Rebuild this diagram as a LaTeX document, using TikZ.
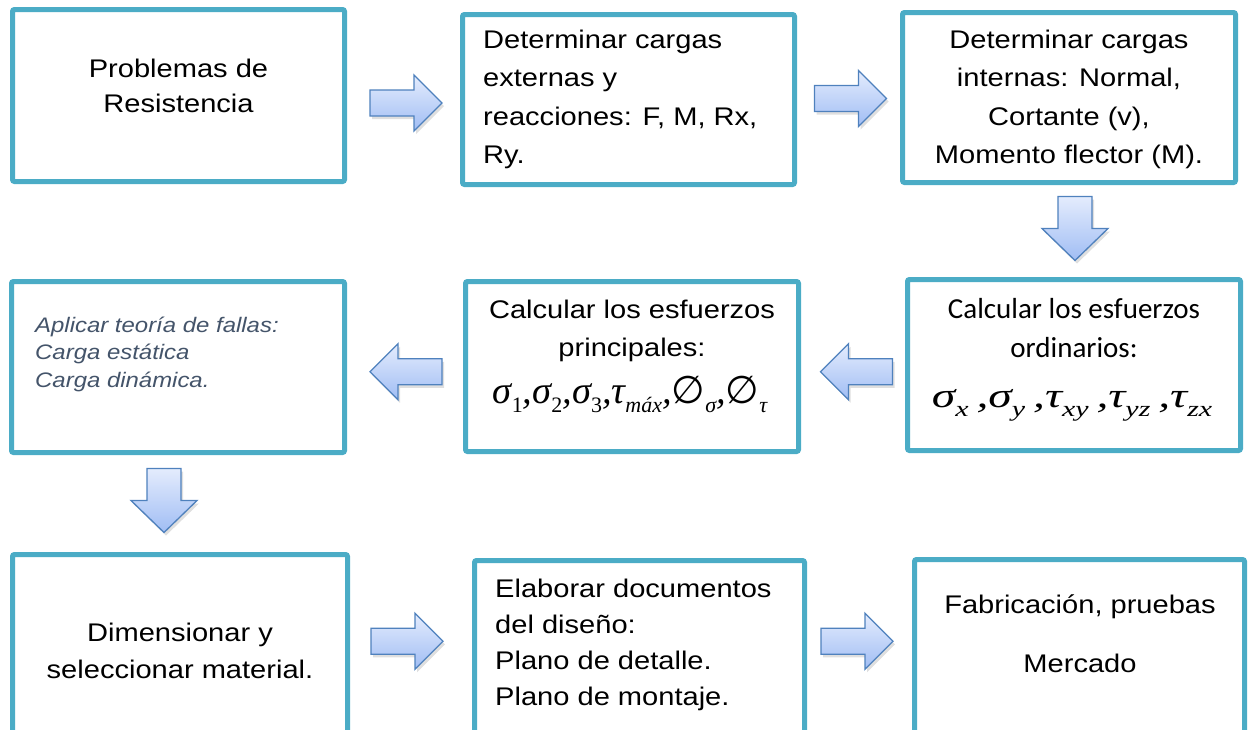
\documentclass[tikz,border=0pt]{standalone}
\usepackage{fontspec}
\setmainfont{Liberation Sans}[FakeStretch=1.14]
\newfontfamily\calibri{Carlito}
\newfontfamily\serifmat{Liberation Serif}
\newfontfamily\simbolo{DejaVu Sans}
\usetikzlibrary{calc,shadows}

\definecolor{borde}{RGB}{75,172,198}
\definecolor{flechaborde}{RGB}{79,129,189}
\definecolor{flechaclara}{RGB}{228,236,253}
\definecolor{flechaoscura}{RGB}{160,189,244}
\definecolor{grisazul}{RGB}{68,84,106}

\tikzset{
  caja/.style={draw=borde, line width=5pt, rounded corners=2pt, fill=white, inner sep=0pt,
    drop shadow={opacity=0.12, shadow xshift=1pt, shadow yshift=-1pt}},
  flecha/.style={draw=flechaborde, line width=1.3pt, line join=miter,
    top color=flechaclara, bottom color=flechaoscura,
    drop shadow={opacity=0.25, shadow xshift=2pt, shadow yshift=-3pt}},
  texto/.style={inner sep=0pt, font=\fontsize{25.5}{38.5}\selectfont},
}

% block arrows round a coordinate
\newcommand{\flechader}[1]{%
  \path[flecha] ($(#1)+(-36,-13)$) -- ++(44,0) -- ++(0,-15) -- ++(28,28)
    -- ++(-28,28) -- ++(0,-15) -- ++(-44,0) -- cycle;}
\newcommand{\flechaizq}[1]{%
  \path[flecha] ($(#1)+(36,-13)$) -- ++(-44,0) -- ++(0,-15) -- ++(-28,28)
    -- ++(28,28) -- ++(0,-15) -- ++(44,0) -- cycle;}
\newcommand{\flechaabajo}[1]{%
  \path[flecha] ($(#1)+(-17,-32)$) -- ++(34,0) -- ++(0,32) -- ++(16,0)
    -- ++(-33,32) -- ++(-33,-32) -- ++(16,0) -- cycle;}
\newcommand{\subi}[1]{\raisebox{-9pt}{\fontsize{22}{22}\selectfont #1}}

\begin{document}
\begin{tikzpicture}[x=1pt, y=-1pt]
  \useasboundingbox (0,0) rectangle (1251,729);
  \clip (0,0) rectangle (1251,729);

  % boxes
  \node[caja, minimum width=332, minimum height=172] (problemas) at (178.5,95.5) {};
  \node[caja, minimum width=332, minimum height=170] (cargasext) at (628.5,99.5) {};
  \node[caja, minimum width=333, minimum height=170] (cargasint) at (1069,97.5) {};
  \node[caja, minimum width=333, minimum height=171] (fallas) at (178,367) {};
  \node[caja, minimum width=333, minimum height=170] (principales) at (632,366.5) {};
  \node[caja, minimum width=333, minimum height=171] (ordinarios) at (1074,365) {};
  \node[caja, minimum width=335, minimum height=183] (dimension) at (180,646) {};
  \node[caja, minimum width=330, minimum height=176] (documentos) at (639.5,648.5) {};
  \node[caja, minimum width=330, minimum height=177] (fabricacion) at (1079.5,648) {};

  % texts (anchored on the baseline of the last line)
  \node[texto, align=center, anchor=base, font=\fontsize{25.5}{35}\selectfont] (tproblemas)
    at (178.5,112) {Problemas de\\Resistencia};
  \node[texto, align=left, anchor=base west] (tcargasext)
    at (483,163.5) {Determinar cargas\\externas y\\reacciones: F, M, Rx,\\Ry.};
  \node[texto, align=center, anchor=base] (tcargasint)
    at (1069,163.5) {Determinar cargas\\internas: Normal,\\Cortante (v),\\Momento flector (M).};
  \node[texto, align=left, anchor=base west, text=grisazul,
    font=\fontsize{21}{27.5}\selectfont\itshape] (tfallas)
    at (35,387) {Aplicar teoría de fallas:\\Carga estática\\Carga dinámica.};
  \node[texto, align=center, anchor=base] (tprincipales)
    at (632,356.5) {Calcular los esfuerzos\\principales:};
  \node[inner sep=0pt, anchor=base] (mprincipales) at (630,403)
    {\serifmat\fontsize{38.5}{38.5}\selectfont\itshape
     σ\subi{\upshape 1},σ\subi{\upshape 2},σ\subi{\upshape 3},τ\subi{máx},{\simbolo\upshape ∅}\subi{σ},{\simbolo\upshape ∅}\subi{τ}};
  \node[texto, align=center, anchor=base, font=\calibri\fontsize{29}{39}\selectfont] (tordinarios)
    at (1074,357) {Calcular los esfuerzos\\ordinarios:};
  \node[inner sep=0pt, anchor=base] (mordinarios) at (1072,407)
    {\scalebox{1.36}[1]{\serifmat\fontsize{35}{35}\selectfont\itshape
     σ\subi{x}\,,σ\subi{y}\,,τ\subi{xy}\,,τ\subi{yz}\,,τ\subi{zx}}};
  \node[texto, align=center, anchor=base, font=\fontsize{25.5}{37}\selectfont] (tdimension)
    at (180,678) {Dimensionar y\\seleccionar material.};
  \node[texto, align=left, anchor=base west, font=\fontsize{25.5}{36}\selectfont] (tdocumentos)
    at (495,705) {Elaborar documentos\\del diseño:\\Plano de detalle.\\Plano de montaje.};
  \node[texto, align=center, anchor=base, font=\fontsize{25.5}{59}\selectfont] (tfabricacion)
    at (1080,672) {Fabricación, pruebas\\Mercado};

  % arrows between boxes
  \coordinate (f1) at ($(problemas.east)!0.5!(cargasext.west)+(2.5,5.5)$);
  \coordinate (f2) at ($(cargasext.east)!0.5!(cargasint.west)+(2,0)$);
  \coordinate (f3) at ($(cargasint.south)!0.5!(ordinarios.north)+(3.5,-2.5)$);
  \coordinate (f4) at ($(principales.east)!0.5!(ordinarios.west)+(3.5,6)$);
  \coordinate (f5) at ($(fallas.east)!0.5!(principales.west)+(1,5)$);
  \coordinate (f6) at ($(fallas.south)!0.5!(dimension.north)+(-15,-3)$);
  \coordinate (f7) at ($(dimension.east)!0.5!(documentos.west)+(-4,-6)$);
  \coordinate (f8) at ($(documentos.east)!0.5!(fabricacion.west)+(-2.5,-7)$);
  \flechader{f1}
  \flechader{f2}
  \flechaabajo{f3}
  \flechaizq{f4}
  \flechaizq{f5}
  \flechaabajo{f6}
  \flechader{f7}
  \flechader{f8}
\end{tikzpicture}
\end{document}
